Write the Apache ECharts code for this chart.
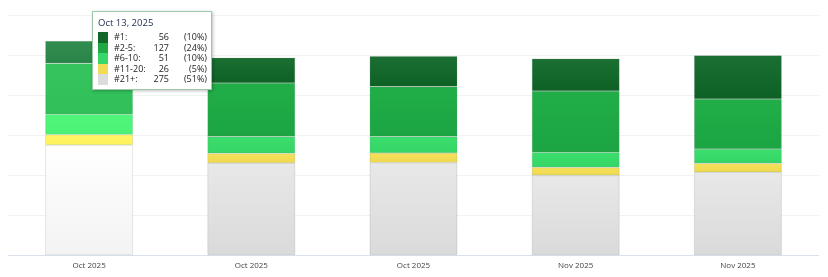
<!DOCTYPE html>
<html><head><meta charset="utf-8">
<script src="https://cdn.jsdelivr.net/npm/echarts@6/dist/echarts.min.js"></script>
<style>html,body{margin:0;padding:0;background:#fff}#c{width:828px;height:277px}</style>
</head><body><div id="c"></div>
<script>
var categories = ["Oct 2025", "Oct 2025", "Oct 2025", "Nov 2025", "Nov 2025"];
var tooltipDates = ["Oct 13, 2025", "Oct 20, 2025", "Oct 27, 2025", "Nov 3, 2025", "Nov 10, 2025"];
var seriesNames = ["#1", "#2-5", "#6-10", "#11-20", "#21+"];
var rank1 = [56, 63, 76, 81, 109];
var rank2to5 = [127, 134, 125, 153, 125];
var rank6to10 = [51, 42, 41, 38, 36];
var rank11to20 = [26, 24, 24, 20, 22];
var rank21plus = [275, 230, 231, 199, 207];
var yMin = 0, yMax = 600, yInterval = 100;

var values = [rank1, rank2to5, rank6to10, rank11to20, rank21plus];
var swatch = ["#116628", "#1fa845", "#37d869", "#f0dc55", "#dcdcdc"];
var normalGrad = [["#1b6f33", "#0e6124"], ["#21ae48", "#1ca443"], ["#3bdd6c", "#35d667"], ["#f5e15b", "#f0d84f"], ["#e8e8e8", "#dadada"]];
var hiGrad = [["#318d50", "#2a8447"], ["#35c45e", "#30bf59"], ["#4ff67b", "#4af276"], ["#fff664", "#fff25c"], ["#ffffff", "#f3f3f3"]];
function grad(c) {
  return new echarts.graphic.LinearGradient(0, 0, 0, 1, [{offset: 0, color: c[0]}, {offset: 1, color: c[1]}]);
}
var series = seriesNames.map(function (n, i) {
  return {
    name: n, type: 'bar', stack: 'total', barWidth: '54%',
    data: values[i],
    itemStyle: {color: grad(normalGrad[i]), borderColor: 'rgba(120,140,125,0.35)', borderWidth: 0.6},
    emphasis: {focus: 'none', itemStyle: {color: grad(hiGrad[i])}}
  };
});
series.reverse();

var chart = echarts.init(document.getElementById('c'), null, {renderer: 'canvas'});
chart.setOption({
  animation: false,
  grid: {left: 8, right: 9, top: 15, bottom: 22, containLabel: false},
  tooltip: {
    trigger: 'axis', alwaysShowContent: true, transitionDuration: 0, showDelay: 0,
    axisPointer: {type: 'none'},
    backgroundColor: '#fff', borderColor: '#9cc8a4', borderWidth: 1, padding: [3, 4, 4, 5],
    extraCssText: 'box-shadow:1px 1px 3px rgba(0,0,0,0.25);border-radius:0;',
    position: function () { return [92, 11]; },
    formatter: function (params) {
      var idx = params[0].dataIndex;
      var total = 0;
      values.forEach(function (v) { total += v[idx]; });
      var h = '<div style="font-family:\'Open Sans\';font-size:9px;color:#222;line-height:10.5px">';
      h += '<div style="color:#1e2b50;font-size:9.5px;height:17px;line-height:15px">' + tooltipDates[idx] + '</div>';
      h += '<table style="border-collapse:collapse;table-layout:fixed;width:109px;font-size:9px;line-height:10.5px">';
      h += '<colgroup><col style="width:10px"><col style="width:43px"><col style="width:18px"><col style="width:38px"></colgroup>';
      seriesNames.forEach(function (n, i) {
        var v = values[i][idx];
        h += '<tr style="height:10.5px"><td style="padding:0;background:' + swatch[i] + '"></td>' +
          '<td style="padding:0 0 0 6px;white-space:nowrap">' + n + ':</td>' +
          '<td style="padding:0;text-align:right">' + v + '</td>' +
          '<td style="padding:0;text-align:right">(' + Math.round(v / total * 100) + '%)</td></tr>';
      });
      h += '</table></div>';
      return h;
    }
  },
  xAxis: {
    type: 'category', data: categories,
    axisLine: {lineStyle: {color: '#dbe1ec', width: 1}},
    axisTick: {show: false},
    axisLabel: {color: '#444', fontSize: 8, fontFamily: 'Open Sans', margin: 7}
  },
  yAxis: {
    type: 'value', min: yMin, max: yMax, interval: yInterval,
    axisLabel: {show: false}, axisLine: {show: false}, axisTick: {show: false},
    splitLine: {lineStyle: {color: '#f2f2f2', width: 1}}
  },
  series: series
});
chart.dispatchAction({type: 'highlight', seriesIndex: [0, 1, 2, 3, 4], dataIndex: 0});
chart.dispatchAction({type: 'showTip', seriesIndex: 0, dataIndex: 0});
</script></body></html>
